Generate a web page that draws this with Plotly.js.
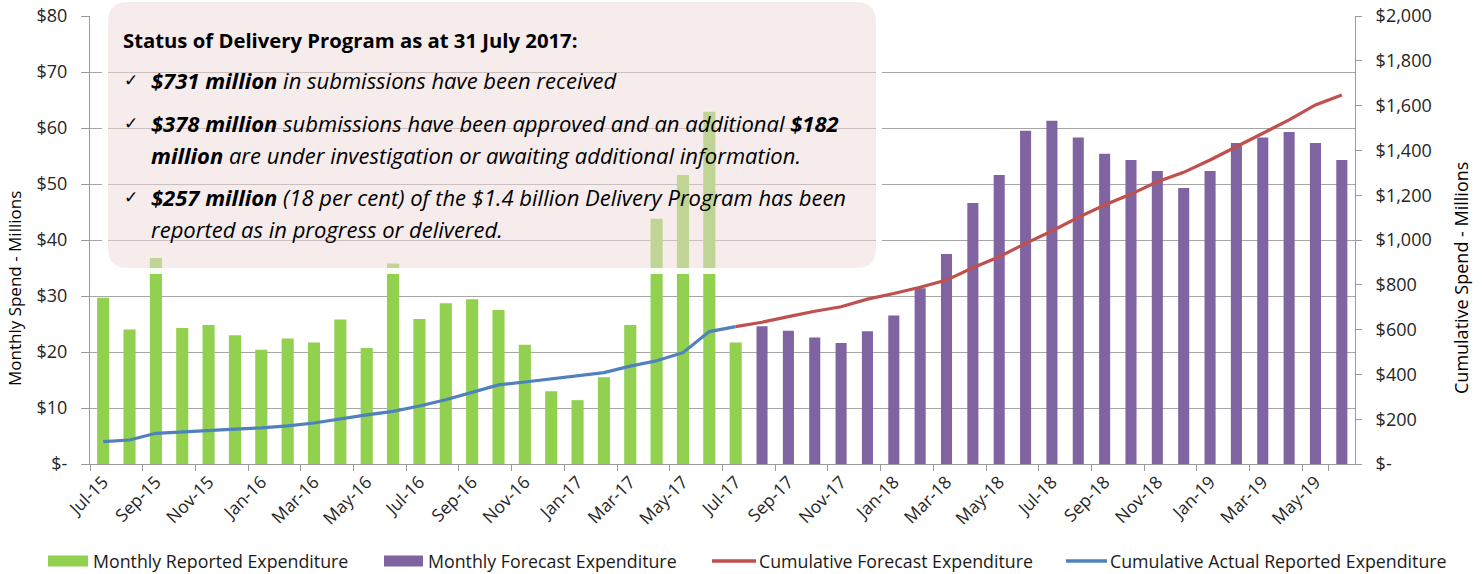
<!DOCTYPE html>
<html>
<head>
<meta charset="utf-8">
<script src="https://cdn.plot.ly/plotly-3.0.1.min.js"></script>
<style>
  html, body { margin: 0; padding: 0; background: #fff; }
  #chart { width: 1482px; height: 574px; }
</style>
</head>
<body>
<div id="chart"></div>
<script>
// ---------------- DATA ----------------
const months = [
  'Jul-15','Aug-15','Sep-15','Oct-15','Nov-15','Dec-15',
  'Jan-16','Feb-16','Mar-16','Apr-16','May-16','Jun-16','Jul-16','Aug-16','Sep-16','Oct-16','Nov-16','Dec-16',
  'Jan-17','Feb-17','Mar-17','Apr-17','May-17','Jun-17','Jul-17','Aug-17','Sep-17','Oct-17','Nov-17','Dec-17',
  'Jan-18','Feb-18','Mar-18','Apr-18','May-18','Jun-18','Jul-18','Aug-18','Sep-18','Oct-18','Nov-18','Dec-18',
  'Jan-19','Feb-19','Mar-19','Apr-19','May-19','Jun-19'
];
// Jul-15 .. Jul-17
const reportedMonths = months.slice(0, 25);
const reportedSpend = [29.7, 24.0, 36.8, 24.3, 24.8, 23.0, 20.4, 22.4, 21.7, 25.8, 20.7, 35.8, 25.9,
  28.7, 29.4, 27.5, 21.3, 13.0, 11.4, 15.5, 24.8, 43.8, 51.6, 62.9, 21.7];
// Aug-17 .. Jun-19
const forecastMonths = months.slice(25);
const forecastSpend = [24.6, 23.8, 22.6, 21.6, 23.7, 26.5, 31.4, 37.5, 46.6, 51.6, 59.5, 61.3,
  58.3, 55.4, 54.3, 52.3, 49.3, 52.3, 57.3, 58.3, 59.3, 57.3, 54.3];
// Jul-15 .. Jul-17
const cumActual = [100, 107, 137, 144, 150, 156, 161, 170, 183, 202, 219, 235, 259, 287, 320,
  353, 366, 379, 393, 408, 437, 461, 497, 591, 613];
// Jul-17 .. Jun-19
const cumForecastMonths = months.slice(24);
const cumForecast = [613, 633, 658, 682, 702, 736, 761, 789, 821, 876, 925, 985, 1040, 1101,
  1156, 1205, 1260, 1302, 1357, 1416, 1476, 1536, 1603, 1647];

const xTickLabels = months.filter((m, i) => i % 2 === 0);
const leftTickVals = [0, 10, 20, 30, 40, 50, 60, 70, 80];
const leftTickText = ['$-', '$10', '$20', '$30', '$40', '$50', '$60', '$70', '$80'];
const rightTickVals = [0, 200, 400, 600, 800, 1000, 1200, 1400, 1600, 1800, 2000];
const rightTickText = ['$-', '$200', '$400', '$600', '$800', '$1,000', '$1,200', '$1,400', '$1,600', '$1,800', '$2,000'];

const seriesNames = ['Monthly Reported Expenditure', 'Monthly Forecast Expenditure',
  'Cumulative Forecast Expenditure', 'Cumulative Actual Reported Expenditure'];
const axisTitles = ['Monthly Spend - Millions', 'Cumulative Spend - Millions'];
const colors = { green: '#92D050', purple: '#8064A2', red: '#C0504D', blue: '#4F81BD' };

const boxTitle = 'Status of Delivery Program as at 31 July 2017:';
const boxLines = [
  '<b>$731 million</b> in submissions have been received',
  '<b>$378 million</b> submissions have been approved and an additional <b>$182</b>',
  '<b>million</b> are under investigation or awaiting additional information.',
  '<b>$257 million</b> (18 per cent) of the $1.4 billion Delivery Program has been',
  'reported as in progress or delivered.'
];
const boxChecks = [true, true, false, true, false];

// ---------------- LAYOUT HELPERS ----------------
const FONT = '"Open Sans", Lato, sans-serif';
const L = 90, R = 1355, T = 16, B = 464, W = 1482, H = 574;
const px = x => (x - L) / (R - L);
const py = y => (B - y) / (B - T);
function rr(x0, y0, x1, y1, r) {
  const X = px, Y = py;
  return `M ${X(x0 + r)},${Y(y0)} L ${X(x1 - r)},${Y(y0)} Q ${X(x1)},${Y(y0)} ${X(x1)},${Y(y0 + r)} ` +
    `L ${X(x1)},${Y(y1 - r)} Q ${X(x1)},${Y(y1)} ${X(x1 - r)},${Y(y1)} ` +
    `L ${X(x0 + r)},${Y(y1)} Q ${X(x0)},${Y(y1)} ${X(x0)},${Y(y1 - r)} ` +
    `L ${X(x0)},${Y(y0 + r)} Q ${X(x0)},${Y(y0)} ${X(x0 + r)},${Y(y0)} Z`;
}

// ---------------- TRACES ----------------
const traces = [
  { type: 'bar', name: seriesNames[0], x: reportedMonths, y: reportedSpend,
    marker: { color: colors.green }, width: 0.46, yaxis: 'y' },
  { type: 'bar', name: seriesNames[1], x: forecastMonths, y: forecastSpend,
    marker: { color: colors.purple }, width: 0.42, yaxis: 'y' },
  { type: 'scatter', mode: 'lines', name: seriesNames[2], x: cumForecastMonths, y: cumForecast,
    line: { color: colors.red, width: 3.2 }, yaxis: 'y2' },
  { type: 'scatter', mode: 'lines', name: seriesNames[3], x: reportedMonths, y: cumActual,
    line: { color: colors.blue, width: 3.2 }, yaxis: 'y2' }
];

// ---------------- SHAPES / ANNOTATIONS ----------------
const shapes = [
  { type: 'path', xref: 'paper', yref: 'paper', layer: 'above',
    path: rr(105, -1, 879, 271, 23), line: { color: 'rgba(255,255,255,0.95)', width: 6 },
    fillcolor: 'rgba(0,0,0,0)' },
  { type: 'path', xref: 'paper', yref: 'paper', layer: 'above',
    path: rr(108, 2, 876, 268, 20), line: { width: 0 },
    fillcolor: 'rgba(238,218,218,0.5)' }
];
const annotations = [];
annotations.push({ xref: 'paper', yref: 'paper', x: px(121), y: py(40), xanchor: 'left', yanchor: 'middle',
  text: '<b>' + boxTitle + '</b>', showarrow: false, font: { family: FONT, size: 20.3, color: '#000' } });
const lineY = [80, 123, 155, 197, 229];
boxLines.forEach((t, i) => {
  if (boxChecks[i]) {
    annotations.push({ xref: 'paper', yref: 'paper', x: px(122), y: py(lineY[i]), xanchor: 'left', yanchor: 'middle',
      text: '✓', showarrow: false, font: { family: 'DejaVu Sans', size: 17, color: '#000' } });
  }
  annotations.push({ xref: 'paper', yref: 'paper', x: px(149), y: py(lineY[i]), xanchor: 'left', yanchor: 'middle',
    text: '<i>' + t + '</i>', showarrow: false, font: { family: FONT, size: 22, color: '#000' } });
});

// axis titles
annotations.push({ xref: 'paper', yref: 'paper', x: px(14), y: py(289), xanchor: 'center', yanchor: 'middle',
  textangle: -90, text: axisTitles[0], showarrow: false, font: { family: FONT, size: 17, color: '#000' } });
annotations.push({ xref: 'paper', yref: 'paper', x: px(1461), y: py(278), xanchor: 'center', yanchor: 'middle',
  textangle: -90, text: axisTitles[1], showarrow: false, font: { family: FONT, size: 18, color: '#000' } });

// manual legend
const legendY = 561;
const legendItems = [
  { kind: 'rect', color: colors.green, x0: 48, x1: 88, tx: 91, name: seriesNames[0] },
  { kind: 'rect', color: colors.purple, x0: 384, x1: 423, tx: 426, name: seriesNames[1] },
  { kind: 'line', color: colors.red, x0: 712, x1: 756, tx: 757, name: seriesNames[2] },
  { kind: 'line', color: colors.blue, x0: 1066, x1: 1107, tx: 1108, name: seriesNames[3] }
];
legendItems.forEach(it => {
  if (it.kind === 'rect') {
    shapes.push({ type: 'rect', xref: 'paper', yref: 'paper', x0: px(it.x0), x1: px(it.x1),
      y0: py(legendY - 5.5), y1: py(legendY + 5.5), fillcolor: it.color, line: { width: 0 } });
  } else {
    shapes.push({ type: 'line', xref: 'paper', yref: 'paper', x0: px(it.x0), x1: px(it.x1),
      y0: py(legendY), y1: py(legendY), line: { color: it.color, width: 3.5 } });
  }
  annotations.push({ xref: 'paper', yref: 'paper', x: px(it.tx), y: py(legendY), xanchor: 'left', yanchor: 'middle',
    text: it.name, showarrow: false, font: { family: FONT, size: 17.8, color: '#1a1a1a' } });
});

const layout = {
  width: W, height: H,
  margin: { l: L, r: W - R, t: T, b: H - B, pad: 0 },
  paper_bgcolor: '#fff', plot_bgcolor: '#fff',
  showlegend: false,
  barmode: 'overlay',
  font: { family: FONT, size: 16, color: '#262626' },
  xaxis: {
    type: 'category', categoryorder: 'array', categoryarray: months,
    range: [-0.5, months.length - 0.5],
    tickmode: 'array', tickvals: xTickLabels, ticktext: xTickLabels,
    tickson: 'boundaries', ticks: 'outside', ticklen: 6, tickcolor: '#9a9a9a',
    tickangle: -45, tickfont: { family: FONT, size: 17.5, color: '#262626' },
    showline: true, linecolor: '#9a9a9a', linewidth: 1, showgrid: false, zeroline: false
  },
  yaxis: {
    range: [0, 80], tickmode: 'array', tickvals: leftTickVals, ticktext: leftTickText,
    ticks: 'outside', ticklen: 8, tickcolor: '#9a9a9a', ticklabelstandoff: 10,
    showline: true, linecolor: '#9a9a9a', showgrid: true, gridcolor: '#a6a6a6', gridwidth: 1,
    zeroline: false, tickfont: { family: FONT, size: 18, color: '#262626' }
  },
  yaxis2: {
    overlaying: 'y', side: 'right', range: [0, 2000],
    tickmode: 'array', tickvals: rightTickVals, ticktext: rightTickText,
    ticks: 'outside', ticklen: 6, tickcolor: '#9a9a9a', ticklabelstandoff: 10,
    showline: true, linecolor: '#9a9a9a', showgrid: false, zeroline: false,
    tickfont: { family: FONT, size: 18, color: '#262626' }
  },
  shapes: shapes,
  annotations: annotations
};

Plotly.newPlot('chart', traces, layout, { displayModeBar: false, staticPlot: true });
</script>
</body>
</html>
